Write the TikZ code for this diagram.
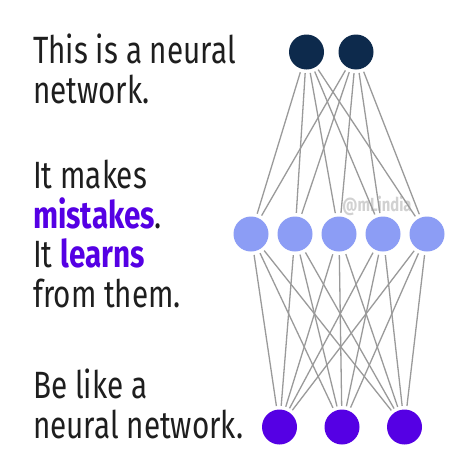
\documentclass[tikz,border=0pt]{standalone}
\usepackage{fontspec}
\setmainfont[FakeStretch=0.78]{Fira Sans}
\usetikzlibrary{positioning}
\definecolor{topcolor}{HTML}{0D2A4C}
\definecolor{midcolor}{HTML}{8C9DF5}
\definecolor{outcolor}{HTML}{5500E4}
\definecolor{edgecolor}{HTML}{9A9A9A}
\definecolor{textcolor}{HTML}{1E1E1E}

\tikzset{
    neuron/.style={circle, minimum size=35pt, inner sep=0pt},
    edge/.style={draw=edgecolor, line width=1.3pt, shorten <=3.5pt, shorten >=3.5pt},
    caption/.style={anchor=base west, align=left, inner sep=0pt, text=textcolor,
        font=\fontsize{38}{39.5}\selectfont}
}
\newcommand{\hilite}[1]{{\bfseries\color{outcolor}#1}}

\begin{document}
\begin{tikzpicture}[x=1pt, y=-1pt]
    \useasboundingbox[fill=white] (0,0) rectangle (474,474);

    % Watermark
    \node[text=black!18, font=\fontsize{19}{19}\selectfont\bfseries, anchor=base] (mark) at (377,211) {@mLindia};

    % Layers
    \node[neuron, fill=topcolor] (t1) at (306.5,52) {};
    \node[neuron, fill=topcolor] (t2) at (356,52) {};

    \foreach \i/\x in {1/251,2/295,3/339,4/383,5/427} {
        \node[neuron, fill=midcolor] (m\i) at (\x,234) {};
    }

    \node[neuron, fill=outcolor] (o1) at (279.5,427) {};
    \node[neuron, fill=outcolor] (o2) at (342,427) {};
    \node[neuron, fill=outcolor] (o3) at (404.5,427) {};

    % Connections
    \foreach \a in {1,2} {
        \foreach \b in {1,...,5} {
            \draw[edge] (t\a) -- (m\b);
        }
    }
    \foreach \b in {1,...,5} {
        \foreach \c in {1,2,3} {
            \draw[edge] (m\b) -- (o\c);
        }
    }

    % Text (base anchor sits on the last line)
    \node[caption] (intro) at (33,103) {This is a neural\\network.};
    \node[caption] (middle) at (33,307) {It makes\\\hilite{mistakes}.\\It \hilite{learns}\\from them.};
    \node[caption] (outro) at (33,438) {Be like a\\neural network.};
\end{tikzpicture}
\end{document}
